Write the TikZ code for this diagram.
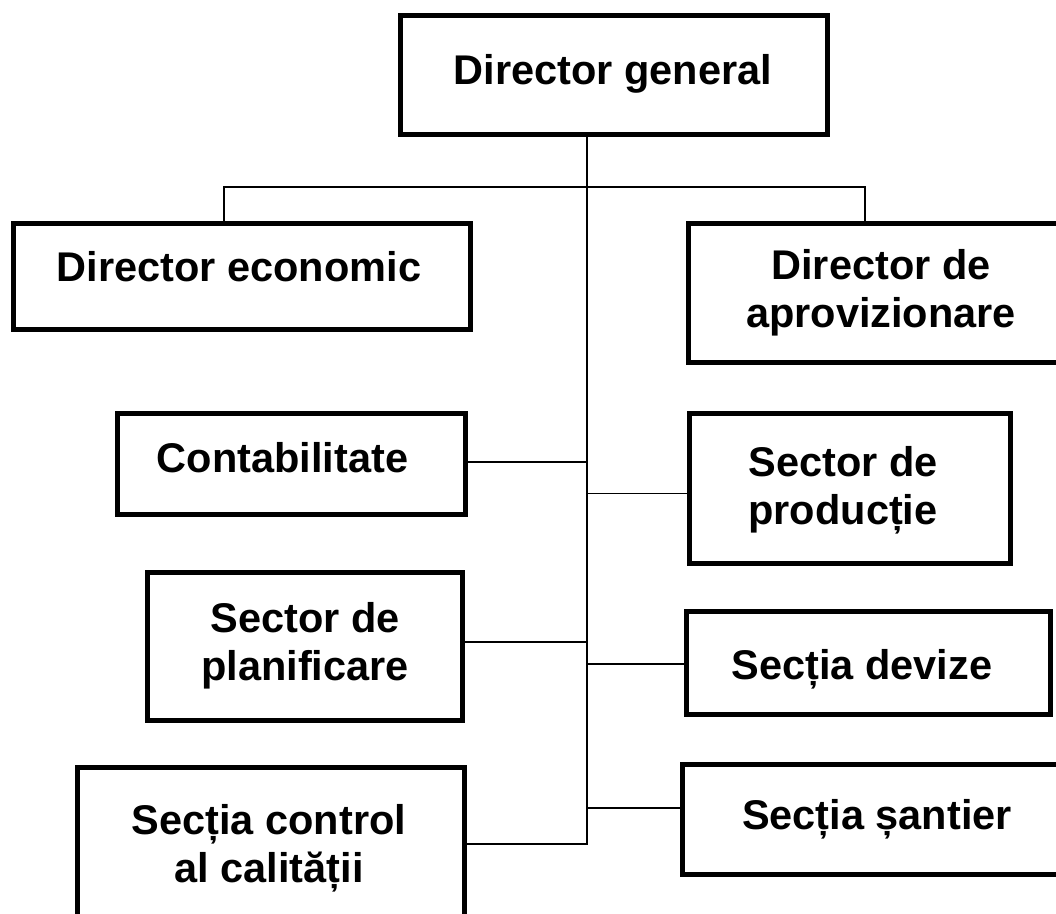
\documentclass[tikz,border=0pt]{standalone}
\usepackage{fontspec}
\setmainfont{Liberation Sans}
\begin{document}
\begin{tikzpicture}[x=1pt,y=-1pt,
  box/.style={draw=black,line width=5pt,rectangle,inner sep=0pt,fill=white},
  lbl/.style={anchor=north,inner sep=0pt,align=center,font=\fontsize{41.5}{48}\selectfont\bfseries},
  conn/.style={draw=black,line width=1.5pt}]
\useasboundingbox (0,0) rectangle (1056,913);
\clip (0,0) rectangle (1056,913);
\fill[white] (0,0) rectangle (1056,913);
% boxes
\node[box,minimum width=427pt,minimum height=119pt] (dg) at (614,75) {};
\node[box,minimum width=457pt,minimum height=106pt] (de) at (242,276.5) {};
\node[box,minimum width=379pt,minimum height=139pt] (da) at (878,293) {};
\node[box,minimum width=348pt,minimum height=101pt] (cont) at (291.5,464) {};
\node[box,minimum width=321pt,minimum height=150pt] (sp) at (850,488.5) {};
\node[box,minimum width=315pt,minimum height=148pt] (spl) at (305,646.5) {};
\node[box,minimum width=364pt,minimum height=103pt] (sd) at (868.5,663) {};
\node[box,minimum width=387pt,minimum height=159.5pt] (scc) at (271,847.25) {};
\node[box,minimum width=385pt,minimum height=110pt] (ss) at (875,819.5) {};
% labels
\node[lbl] (dgt) at (613,54) {Director general};
\node[lbl] (det) at (239,251) {Director economic};
\node[lbl] (dat) at (881,249) {Director de\\aprovizionare};
\node[lbl] (contt) at (282.5,442) {Contabilitate};
\node[lbl] (spt) at (843,446) {Sector de\\producție};
\node[lbl] (splt) at (305,602) {Sector de\\planificare};
\node[lbl] (sdt) at (862,649) {Secția devize};
\node[lbl] (scct) at (269,804) {Secția control\\al calității};
\node[lbl] (sst) at (877,799) {Secția șantier};
% junction coordinates on the trunk
\coordinate (top) at (587,187);
\coordinate (jc) at (587,462);
\coordinate (jp) at (587,493.5);
\coordinate (jpl) at (587,642);
\coordinate (jd) at (587,664);
\coordinate (js) at (587,808);
\coordinate (bot) at (587,844);
% connectors
\draw[conn] (dg.south -| top) -- (bot) -- (bot -| scc.east);
\draw[conn] ([xshift=-18pt]de.north) |- (top) -| ([xshift=-13pt]da.north);
\draw[conn] (jc -| cont.east) -- (jc);
\draw[conn] (jp) -- (jp -| sp.west);
\draw[conn] (jpl -| spl.east) -- (jpl);
\draw[conn] (jd) -- (jd -| sd.west);
\draw[conn] (js) -- (js -| ss.west);
\end{tikzpicture}
\end{document}
